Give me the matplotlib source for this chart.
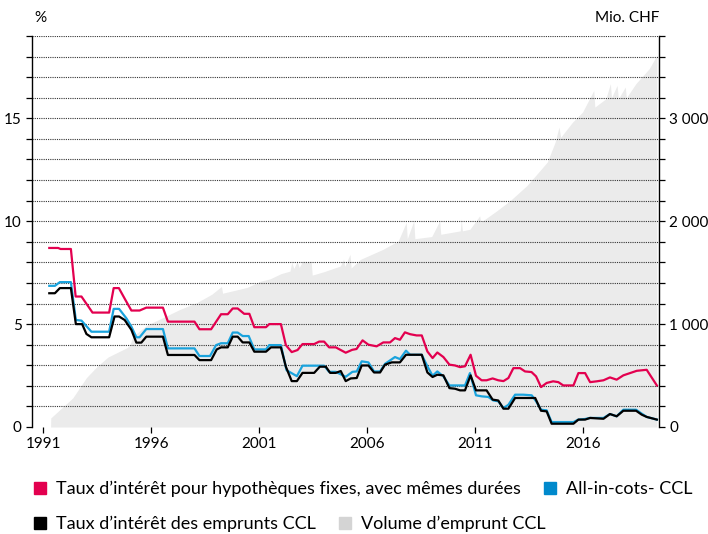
import matplotlib
matplotlib.use("Agg")
import matplotlib.pyplot as plt
from matplotlib.patches import Patch

plt.rcParams['font.family'] = ['Lato', 'DejaVu Sans']

# mortgage rate, fixed with same maturity (%)
red_x = [1991.28, 1991.69, 1991.8, 1992.28, 1992.5, 1992.77, 1993.28, 1994.05, 1994.26, 1994.5,
         1994.8, 1995.08, 1995.46, 1995.77, 1996.54, 1996.77, 1998.0, 1998.23, 1998.77, 1999.23,
         1999.54, 1999.77, 2000.0, 2000.3, 2000.54, 2000.77, 2001.31, 2001.46, 2002.0, 2002.23,
         2002.5, 2002.77, 2003.0, 2003.54, 2003.77, 2004.0, 2004.23, 2004.54, 2005.0, 2005.3,
         2005.5, 2005.78, 2006.05, 2006.43, 2006.74, 2007.05, 2007.28, 2007.51, 2007.74, 2007.98,
         2008.28, 2008.52, 2008.78, 2009.02, 2009.24, 2009.52, 2009.8, 2010.06, 2010.29, 2010.52,
         2010.78, 2011.03, 2011.29, 2011.52, 2011.8, 2012.06, 2012.3, 2012.53, 2012.76, 2013.07,
         2013.3, 2013.6, 2013.81, 2014.04, 2014.3, 2014.6, 2014.84, 2015.07, 2015.54, 2015.77,
         2016.08, 2016.31, 2016.62, 2016.93, 2017.23, 2017.54, 2017.85, 2018.16, 2018.47, 2018.93,
         2019.4]
red_y = [8.70, 8.70, 8.65, 8.65, 6.34, 6.34, 5.56, 5.56, 6.75, 6.75,
         6.18, 5.66, 5.66, 5.80, 5.80, 5.12, 5.12, 4.75, 4.75, 5.48,
         5.48, 5.76, 5.76, 5.50, 5.50, 4.85, 4.85, 5.00, 5.00, 3.98,
         3.64, 3.74, 4.03, 4.03, 4.15, 4.15, 3.87, 3.87, 3.61, 3.75,
         3.79, 4.21, 4.00, 3.92, 4.11, 4.11, 4.32, 4.24, 4.60, 4.51,
         4.45, 4.45, 3.67, 3.35, 3.62, 3.40, 3.03, 2.99, 2.91, 2.95,
         3.51, 2.49, 2.27, 2.27, 2.36, 2.27, 2.23, 2.38, 2.86, 2.86,
         2.70, 2.67, 2.46, 1.94, 2.14, 2.22, 2.18, 2.02, 2.02, 2.62,
         2.62, 2.18, 2.22, 2.27, 2.41, 2.30, 2.51, 2.62, 2.73, 2.78,
         2.02]

# all-in-costs CCL (%)
blue_x = [1991.28, 1991.54, 1991.77, 1992.28, 1992.51, 1992.77, 1993.23, 1994.05, 1994.26, 1994.51,
          1994.85, 1995.08, 1995.31, 1995.46, 1995.77, 1996.54, 1996.77, 1998.0, 1998.23, 1998.72,
          1999.0, 1999.23, 1999.54, 1999.77, 2000.0, 2000.23, 2000.51, 2000.77, 2001.31, 2001.46,
          2002.0, 2002.26, 2002.74, 2003.0, 2004.0, 2004.23, 2004.54, 2005.0, 2005.31, 2005.51,
          2005.74, 2006.05, 2006.31, 2006.59, 2006.82, 2007.28, 2007.51, 2007.79, 2007.98, 2008.52,
          2008.78, 2009.02, 2009.24, 2009.52, 2009.8, 2010.52, 2010.75, 2011.03, 2011.29, 2011.6,
          2011.83, 2012.06, 2012.3, 2012.53, 2012.84, 2013.22, 2013.61, 2013.81, 2014.04, 2014.3,
          2014.53, 2015.54, 2015.77, 2016.08, 2016.31, 2016.93, 2017.23, 2017.54, 2017.85, 2018.44,
          2018.7, 2018.93, 2019.4]
blue_y = [6.86, 6.86, 7.04, 7.04, 5.20, 5.17, 4.63, 4.63, 5.74, 5.74,
          5.28, 4.88, 4.36, 4.36, 4.76, 4.76, 3.82, 3.82, 3.45, 3.45,
          3.98, 4.07, 4.07, 4.59, 4.59, 4.42, 4.42, 3.77, 3.77, 3.98,
          3.98, 2.76, 2.47, 2.98, 2.98, 2.68, 2.68, 2.44, 2.68, 2.70,
          3.19, 3.14, 2.70, 2.70, 3.07, 3.40, 3.30, 3.71, 3.51, 3.51,
          2.95, 2.49, 2.70, 2.46, 2.02, 2.02, 2.62, 1.54, 1.49, 1.46,
          1.29, 1.25, 0.92, 1.08, 1.57, 1.57, 1.54, 1.25, 0.84, 0.81,
          0.24, 0.24, 0.36, 0.39, 0.44, 0.44, 0.63, 0.52, 0.84, 0.84,
          0.65, 0.49, 0.36]

# CCL bond interest rate (%)
black_x = [1991.28, 1991.54, 1991.77, 1992.28, 1992.51, 1992.8, 1993.0, 1993.23, 1994.05, 1994.3,
           1994.51, 1994.77, 1995.08, 1995.31, 1995.54, 1995.77, 1996.54, 1996.77, 1998.0, 1998.23,
           1998.77, 1999.03, 1999.23, 1999.54, 1999.77, 2000.0, 2000.23, 2000.54, 2000.77, 2001.31,
           2001.54, 2002.0, 2002.23, 2002.5, 2002.74, 2003.0, 2003.54, 2003.8, 2004.08, 2004.28,
           2004.54, 2004.77, 2005.0, 2005.23, 2005.51, 2005.74, 2006.05, 2006.31, 2006.59, 2006.82,
           2007.13, 2007.51, 2007.79, 2008.52, 2008.78, 2009.02, 2009.24, 2009.52, 2009.8, 2010.06,
           2010.29, 2010.52, 2010.78, 2011.03, 2011.52, 2011.8, 2012.06, 2012.3, 2012.53, 2012.84,
           2013.77, 2014.04, 2014.3, 2014.53, 2015.54, 2015.77, 2016.08, 2016.31, 2016.93, 2017.23,
           2017.54, 2017.85, 2018.44, 2018.7, 2018.93, 2019.4]
black_y = [6.50, 6.50, 6.75, 6.75, 5.00, 5.00, 4.52, 4.36, 4.36, 5.37,
           5.37, 5.20, 4.72, 4.10, 4.10, 4.39, 4.39, 3.50, 3.50, 3.25,
           3.25, 3.77, 3.87, 3.87, 4.39, 4.39, 4.11, 4.11, 3.66, 3.66,
           3.87, 3.87, 2.93, 2.23, 2.23, 2.63, 2.63, 2.93, 2.93, 2.63,
           2.63, 2.72, 2.23, 2.36, 2.38, 2.99, 2.99, 2.65, 2.65, 3.03,
           3.14, 3.14, 3.51, 3.51, 2.65, 2.43, 2.54, 2.51, 1.89, 1.86,
           1.78, 1.78, 2.51, 1.78, 1.78, 1.33, 1.29, 0.89, 0.89, 1.41,
           1.41, 0.79, 0.76, 0.16, 0.16, 0.36, 0.36, 0.44, 0.40, 0.63,
           0.52, 0.79, 0.79, 0.60, 0.49, 0.36]

# CCL borrowing volume (Mio. CHF)
vol_x = [1991.34, 1991.35, 1992.37, 1993.0, 1993.5, 1994.0, 1994.87, 1995.0, 1995.15, 1995.5,
         1995.8, 1996.54, 1997.3, 1998.12, 1998.8, 1999.25, 1999.3, 2000.43, 2001.03, 2001.5,
         2002.0, 2002.42, 2002.5, 2002.6, 2002.75, 2002.85, 2003.0, 2003.4, 2003.45, 2004.0,
         2004.75, 2004.9, 2004.95, 2005.2, 2005.25, 2005.68, 2006.73, 2007.43, 2007.8, 2007.85,
         2008.15, 2008.2, 2008.98, 2009.35, 2009.4, 2010.3, 2010.35, 2010.4, 2010.75, 2011.2,
         2011.25, 2011.99, 2012.6, 2013.38, 2013.92, 2014.33, 2014.69, 2014.87, 2014.95, 2015.5,
         2015.96, 2016.48, 2016.53, 2017.04, 2017.25, 2017.3, 2017.56, 2017.62, 2017.94, 2017.99,
         2018.43, 2019.05, 2019.4]
vol_y = [0, 88, 283, 480, 590, 680, 770, 790, 880, 940,
         990, 1063, 1140, 1210, 1290, 1366, 1300, 1356, 1415, 1440,
         1490, 1515, 1600, 1540, 1610, 1550, 1610, 1610, 1476, 1510,
         1564, 1629, 1560, 1678, 1545, 1629, 1727, 1808, 1988, 1830,
         2003, 1830, 1851, 2003, 1873, 1906, 2020, 1906, 1922, 2052,
         1990, 2101, 2198, 2345, 2475, 2575, 2767, 2914, 2816, 2963,
         3060, 3271, 3109, 3190, 3337, 3200, 3320, 3190, 3304, 3200,
         3337, 3483, 3613]

years = [1991, 1996, 2001, 2006, 2011, 2016]

RED = '#E3004F'
BLUE = '#1AA3DD'
GREY_FILL = '#EBEBEB'
GREY_LEG = '#D4D4D4'

fig = plt.figure(figsize=(7.08, 5.34), dpi=100)
ax = fig.add_axes([32 / 708, 1 - 427 / 534, (659 - 32) / 708, (427 - 36) / 534])
ax2 = ax.twinx()
ax.set_zorder(ax2.get_zorder() + 1)
ax.patch.set_visible(False)

ax2.fill_between(vol_x, vol_y, 0, color=GREY_FILL, lw=0)
ax2.set_ylim(0, 3800)
ax2.set_yticks([0, 1000, 2000, 3000])
ax2.set_yticklabels(['0', '1 000', '2 000', '3 000'])
ax2.set_yticks(range(0, 3801, 200), minor=True)

ax.plot(red_x, red_y, color=RED, lw=1.6)
ax.plot(blue_x, blue_y, color=BLUE, lw=1.6)
ax.plot(black_x, black_y, color='black', lw=1.6)

ax.set_xlim(1990.48, 2019.5)
ax.set_ylim(0, 19)
ax.set_xticks(years)
ax.set_yticks([0, 5, 10, 15])
ax.set_yticks(range(0, 20), minor=True)
for v in range(1, 20):
    ax.axhline(v, color='#333333', lw=0.8, ls=(0, (1, 1)), zorder=1)

for a in (ax, ax2):
    for s in a.spines.values():
        s.set_visible(False)
ax.spines['left'].set_visible(True)
ax.spines['left'].set_linewidth(1.0)
ax2.spines['right'].set_visible(True)
ax2.spines['right'].set_linewidth(1.0)

ax.tick_params(axis='y', which='both', length=4.5, width=0.9, direction='out',
               labelsize=11, pad=3)
ax.tick_params(axis='x', length=4.5, width=0.9, direction='out', labelsize=11, pad=3)
ax2.tick_params(axis='y', which='both', length=4.5, width=0.9, direction='out',
                labelsize=11, pad=3)

fig.text(34 / 708, 1 - 18 / 534, '%', fontsize=11, ha='left', va='center')
fig.text(659 / 708, 1 - 18 / 534, 'Mio. CHF', fontsize=11, ha='right', va='center')

leg_kw = dict(frameon=False, ncol=2, fontsize=13, handlelength=0.67, handleheight=0.67,
              handletextpad=0.55, columnspacing=1.3, borderaxespad=0, borderpad=0)
l1 = fig.legend(handles=[Patch(color=RED, label='Taux d’intérêt pour hypothèques fixes, avec mêmes durées'),
                         Patch(color='#0089CC', label='All-in-cots- CCL')],
                loc='center left', bbox_to_anchor=(34 / 708, 1 - 489 / 534), **leg_kw)
l2 = fig.legend(handles=[Patch(color='black', label='Taux d’intérêt des emprunts CCL'),
                         Patch(color=GREY_LEG, label='Volume d’emprunt CCL')],
                loc='center left', bbox_to_anchor=(34 / 708, 1 - 524 / 534), **leg_kw)

fig.savefig('out.png', dpi=100)
